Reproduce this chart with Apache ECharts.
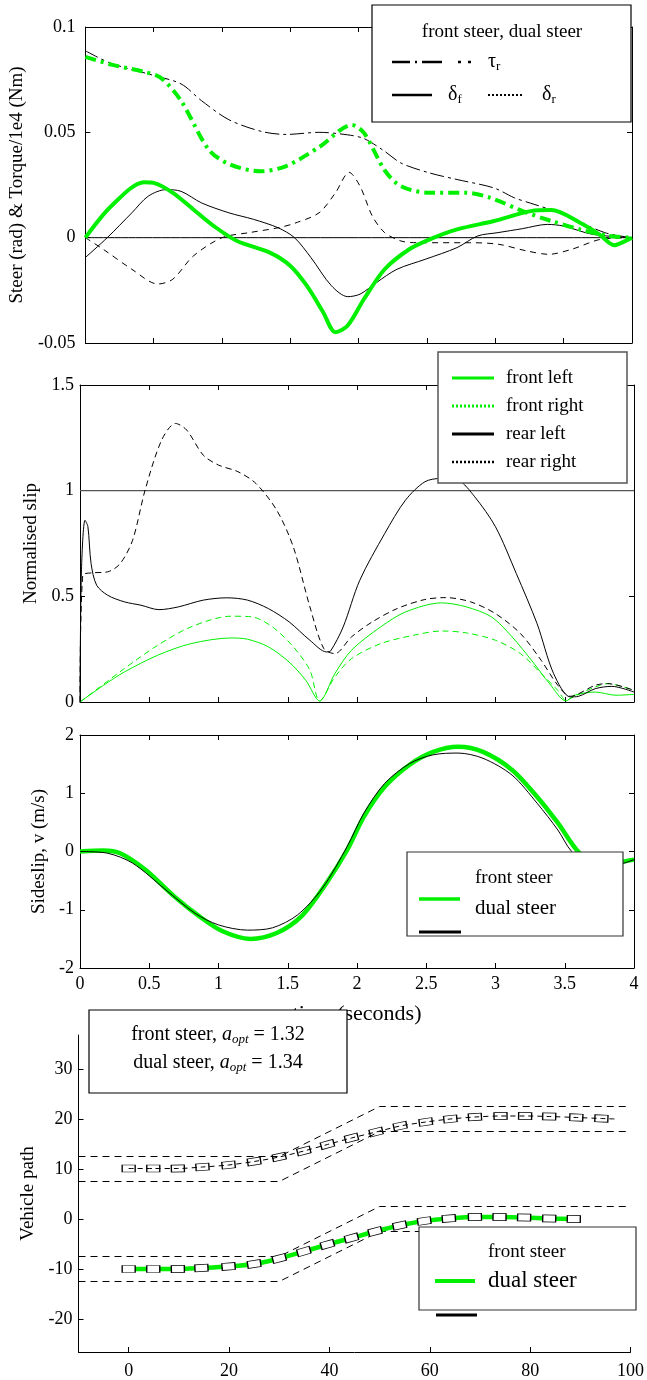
<!DOCTYPE html>
<html><head><meta charset="utf-8">
<script src="https://cdn.jsdelivr.net/npm/echarts@6/dist/echarts.min.js"></script>
<style>html,body{margin:0;padding:0;background:#fff}#c{width:647px;height:1380px}</style>
</head><body><div id="c"></div>
<script>
// ---------- Panel 1: steer & torque ----------
const frontTauT = [0,0.2,0.43,0.55,0.7,0.9,1.05,1.28,1.47,1.71,1.95,2.04,2.19,2.31,2.52,2.78,2.96,3.2,3.41,3.62,3.83,4];
const frontTauV = [0.0858,0.082,0.0787,0.076,0.065,0.042,0.035,0.0315,0.034,0.043,0.0535,0.0496,0.032,0.0244,0.0213,0.0213,0.019,0.0126,0.0079,0.0039,0.0008,0];
const dualTauT = [0,0.19,0.5,0.7,0.85,1.05,1.29,1.47,1.71,1.92,2.04,2.19,2.31,2.52,2.72,2.99,3.14,3.29,3.47,3.8,4];
const dualTauV = [0.0887,0.0827,0.077,0.073,0.065,0.056,0.0504,0.049,0.050,0.0488,0.047,0.041,0.0354,0.0307,0.0276,0.0236,0.0189,0.0157,0.0118,0.0024,0];
const frontDfT = [0,0.19,0.43,0.5,0.64,0.79,0.94,1.11,1.35,1.5,1.62,1.74,1.83,1.92,2.04,2.19,2.37,2.52,2.72,2.99,3.26,3.41,3.62,3.76,3.87,3.95,4];
const frontDfV = [0,0.015,0.0263,0.026,0.0213,0.0134,0.0055,-0.0016,-0.0071,-0.0134,-0.0228,-0.0354,-0.0449,-0.0417,-0.029,-0.015,-0.0055,-0.0008,0.0039,0.0079,0.0126,0.0131,0.0071,0.0016,-0.0036,-0.0016,0];
const dualDfT = [0,0.16,0.34,0.46,0.59,0.7,0.85,1.05,1.23,1.41,1.53,1.65,1.8,1.92,2.01,2.13,2.28,2.49,2.72,2.87,3.02,3.2,3.38,3.5,3.71,4];
const dualDfV = [-0.0094,0,0.0118,0.0197,0.0228,0.022,0.0165,0.0118,0.0087,0.0047,0,-0.0094,-0.0228,-0.028,-0.0268,-0.0213,-0.015,-0.0102,-0.0047,0.0008,0.0024,0.0043,0.0063,0.0055,0.0016,0];
const dualDrT = [0,0.13,0.34,0.53,0.64,0.79,1.0,1.2,1.41,1.53,1.71,1.83,1.93,2.01,2.1,2.19,2.31,2.43,2.81,3.02,3.23,3.39,3.56,3.77,4];
const dualDrV = [0,-0.0055,-0.015,-0.022,-0.0197,-0.0087,0,0.0024,0.0047,0.0068,0.0118,0.0213,0.031,0.0244,0.0102,0.0024,-0.0016,-0.0024,-0.0024,-0.0031,-0.0063,-0.0079,-0.0055,-0.0008,0];
const p1RefT = [0,4], p1RefV = [0,0];

// ---------- Panel 2: normalised slip ----------
const rearLeftT = [0,0.01,0.036,0.057,0.08,0.12,0.2,0.32,0.44,0.57,0.71,0.89,1.06,1.21,1.36,1.51,1.66,1.78,1.81,1.9,2.02,2.2,2.35,2.49,2.61,2.73,2.85,3.0,3.15,3.3,3.42,3.54,3.6,3.72,3.84,4];
const rearLeftV = [0,0.61,0.86,0.83,0.655,0.553,0.505,0.474,0.458,0.437,0.45,0.482,0.493,0.482,0.442,0.379,0.292,0.237,0.242,0.355,0.576,0.797,0.955,1.042,1.058,1.05,0.971,0.829,0.608,0.371,0.134,0.024,0.027,0.063,0.074,0.047];
const rearRightT = [0,0.02,0.086,0.2,0.29,0.38,0.47,0.59,0.69,0.77,0.89,1.0,1.14,1.27,1.42,1.54,1.66,1.76,1.84,1.96,2.11,2.29,2.49,2.64,2.82,3.0,3.18,3.33,3.45,3.54,3.72,3.81,4];
const rearRightV = [0,0.6,0.611,0.616,0.655,0.766,1.003,1.24,1.318,1.287,1.168,1.121,1.09,1.034,0.908,0.734,0.45,0.253,0.229,0.308,0.379,0.442,0.485,0.494,0.474,0.418,0.324,0.197,0.079,0.027,0.079,0.087,0.055];
const frontLeftT = [0,0.17,0.32,0.56,0.8,1.09,1.21,1.36,1.51,1.63,1.73,1.84,1.96,2.17,2.35,2.61,2.79,2.97,3.12,3.27,3.39,3.51,3.57,3.72,3.87,4];
const frontLeftV = [0,0.079,0.142,0.221,0.276,0.303,0.297,0.261,0.189,0.103,0.005,0.134,0.245,0.355,0.426,0.469,0.45,0.403,0.308,0.189,0.087,0.005,0.032,0.047,0.032,0.036];
const frontRightT = [0,0.32,0.56,0.8,1.09,1.24,1.39,1.54,1.66,1.73,1.84,1.96,2.17,2.41,2.61,2.79,3.0,3.18,3.33,3.45,3.51,3.57,3.72,3.81,4];
const frontRightV = [0,0.158,0.268,0.355,0.406,0.403,0.355,0.261,0.15,0.005,0.118,0.205,0.276,0.316,0.336,0.327,0.292,0.229,0.134,0.055,0.008,0.027,0.071,0.087,0.055];
const p2RefT = [0,4], p2RefV = [1,1];

// ---------- Panel 3: sideslip ----------
const frontSideT = [0,0.17,0.29,0.47,0.68,0.86,1.03,1.23,1.42,1.6,1.78,1.93,2.05,2.2,2.38,2.55,2.73,2.91,3.12,3.3,3.45,3.6,3.75,3.93,4];
const frontSideV = [0,0.017,-0.03,-0.31,-0.77,-1.11,-1.37,-1.5,-1.4,-1.11,-0.54,0.03,0.6,1.11,1.49,1.71,1.8,1.71,1.4,0.94,0.49,-0.01,-0.26,-0.17,-0.14];
const dualSideT = [0,0.2,0.38,0.62,0.83,1.0,1.21,1.39,1.57,1.75,1.93,2.05,2.2,2.38,2.55,2.73,2.91,3.12,3.3,3.45,3.55,3.72,3.9,4];
const dualSideV = [0,-0.03,-0.2,-0.66,-1.06,-1.26,-1.35,-1.31,-1.09,-0.63,0.09,0.66,1.17,1.51,1.66,1.69,1.6,1.31,0.83,0.37,0,-0.31,-0.22,-0.14];

// ---------- Panel 4: vehicle path ----------
const laneX = [-10,30,50,100];
const laneA = [12.5,12.5,22.5,22.5];
const laneB = [7.5,7.5,17.5,17.5];
const laneC = [-7.5,-7.5,2.5,2.5];
const laneD = [-12.5,-12.5,-2.5,-2.5];
const topPathX = [0,4.9,9.8,14.7,19.9,25,30,34.9,39.6,44.4,49.3,54.1,59.2,64.1,69,74.1,79,83.8,89.2,94.2];
const topPathY = [10.1,10.1,10.1,10.4,10.8,11.5,12.4,13.6,14.9,16.2,17.4,18.6,19.4,20.0,20.4,20.6,20.6,20.5,20.3,20.1];
const topLineX = [0,4.9,9.8,14.7,19.9,25,30,34.9,39.6,44.4,49.3,54.1,59.2,64.1,69,74.1,79,83.8,89.2,94.2,97];
const topLineY = [10.1,10.1,10.1,10.4,10.8,11.5,12.4,13.6,14.9,16.2,17.4,18.6,19.4,20.0,20.4,20.6,20.6,20.5,20.3,20.1,20.0];
const botPathX = [0,4.9,9.8,14.5,19.9,25,30,34.9,39.6,44.4,49.1,54,58.9,63.8,69,73.9,78.8,83.8,88.7];
const botPathY = [-10,-10,-10,-9.8,-9.5,-9.0,-7.9,-6.5,-5.1,-3.8,-2.5,-1.3,-0.4,0.1,0.4,0.4,0.3,0.1,0];
const p4XTicks = [0,20,40,60,80,100];
const p4YTicks = [-20,-10,0,10,20,30];

const FONT = 'Liberation Serif';
const GREEN = '#00f000';
const zip = (a,b) => a.map((v,i)=>[v,b[i]]);

const grids = [
  {left:78, right:15, top:27, height:316},
  {left:80, right:13, top:385, height:317},
  {left:80, right:13, top:735, height:233},
  {left:78.5, right:15, top:1035, height:318}
];

const xAxes = [], yAxes = [];
const lblStyle = {color:'#000', fontFamily:FONT, fontSize:18};
const nameStyle = {color:'#000', fontFamily:FONT, fontSize:19};
function axisBase(g, pos){
  return {gridIndex:g, type:'value', position:pos,
    axisLine:{show:true, onZero:false, lineStyle:{color:'#000', width:1}},
    axisTick:{show:true, inside:true, length:5, lineStyle:{color:'#000'}},
    splitLine:{show:false}};
}
function boxAxes(g, xr, yr, showX, yMargin, yName, yGap, xName){
  const xb = Object.assign(axisBase(g,'bottom'), {min:xr[0], max:xr[1], interval:xr[2],
    axisLabel:Object.assign({show:showX, margin:7}, lblStyle)});
  if (xName) Object.assign(xb, {name:xName, nameLocation:'middle', nameGap:35,
    nameTextStyle:{color:'#000', fontFamily:FONT, fontSize:22}});
  xAxes.push(xb);
  xAxes.push(Object.assign(axisBase(g,'top'), {min:xr[0], max:xr[1], interval:xr[2], axisLabel:{show:false}}));
  yAxes.push(Object.assign(axisBase(g,'left'), {min:yr[0], max:yr[1], interval:yr[2],
    axisLabel:Object.assign({margin:yMargin}, lblStyle),
    name:yName, nameLocation:'middle', nameGap:yGap, nameRotate:90, nameTextStyle:nameStyle}));
  yAxes.push(Object.assign(axisBase(g,'right'), {min:yr[0], max:yr[1], interval:yr[2], axisLabel:{show:false}}));
}
boxAxes(0, [0,4,0.5], [-0.05,0.1,0.05], false, 10, 'Steer (rad) & Torque/1e4 (Nm)', 50);
boxAxes(1, [0,4,0.5], [0,1.5,0.5], false, 6, 'Normalised slip', 34);
boxAxes(2, [0,4,0.5], [-2,2,1], true, 6, 'Sideslip, v (m/s)', 26, 'time (seconds)');
// panel 4 (x index 6, y index 6)
xAxes.push(Object.assign(axisBase(3,'bottom'), {min:-10, max:100,
  axisTick:{show:true, inside:true, length:5, lineStyle:{color:'#000'}, customValues:p4XTicks},
  axisLabel:Object.assign({margin:10, customValues:p4XTicks}, lblStyle)}));
yAxes.push(Object.assign(axisBase(3,'left'), {min:-26.6, max:36.8,
  axisTick:{show:true, inside:true, length:5, lineStyle:{color:'#000'}, customValues:p4YTicks},
  axisLabel:Object.assign({margin:6, customValues:p4YTicks}, lblStyle),
  name:'Vehicle path', nameLocation:'middle', nameGap:35, nameRotate:90, nameTextStyle:nameStyle}));

function line(ax, data, color, width, type, z){
  return {type:'line', xAxisIndex:ax, yAxisIndex:ax, data, showSymbol:false, symbol:'none',
    smooth:0.3, lineStyle:{color, width, type:type||'solid', cap:'butt'}, z:z||2, silent:true, animation:false};
}
function boxRot(xs, ys){
  return function(val, p){
    const i = p.dataIndex, n = xs.length;
    const a = Math.max(0,i-1), b = Math.min(n-1,i+1);
    return Math.atan2(ys[b]-ys[a], xs[b]-xs[a]) * 180/Math.PI;
  };
}
function boxes(ax, xs, ys, fill){
  return {type:'scatter', xAxisIndex:ax, yAxisIndex:ax, data:zip(xs,ys), symbol:'rect',
    symbolSize:[13,7], symbolRotate:boxRot(xs,ys),
    itemStyle:{color:fill, borderColor:'#000', borderWidth:1, opacity:1}, z:5, silent:true, animation:false};
}

const series = [
  // panel 1 (axis index 0)
  line(0, zip(p1RefT,p1RefV), '#000', 1),
  line(0, zip(dualTauT,dualTauV), '#000', 1, [14,4,3,4]),
  line(0, zip(dualDrT,dualDrV), '#000', 1, [6,5]),
  line(0, zip(dualDfT,dualDfV), '#000', 1),
  line(0, zip(frontTauT,frontTauV), GREEN, 4, [11,5,3,5], 3),
  line(0, zip(frontDfT,frontDfV), GREEN, 4, 'solid', 3),
  // panel 2 (axis index 2)
  line(2, zip(p2RefT,p2RefV), '#555', 1.2),
  line(2, zip(frontRightT,frontRightV), GREEN, 1, [6,4]),
  line(2, zip(frontLeftT,frontLeftV), GREEN, 1),
  line(2, zip(rearRightT,rearRightV), '#000', 1, [6,4]),
  line(2, zip(rearLeftT,rearLeftV), '#000', 1),
  // panel 3 (axis index 4)
  line(4, zip(frontSideT,frontSideV), GREEN, 4.5),
  line(4, zip(dualSideT,dualSideV), '#000', 1, 'solid', 3),
  // panel 4 (axis index 6)
  Object.assign(line(6, zip(laneX,laneA), '#000', 1, [7,5]), {smooth:false}),
  Object.assign(line(6, zip(laneX,laneB), '#000', 1, [7,5]), {smooth:false}),
  Object.assign(line(6, zip(laneX,laneC), '#000', 1, [7,5]), {smooth:false}),
  Object.assign(line(6, zip(laneX,laneD), '#000', 1, [7,5]), {smooth:false}),
  line(6, zip(topLineX,topLineY), '#000', 1, [5,4]),
  boxes(6, topPathX, topPathY, 'rgba(0,0,0,0)'),
  line(6, zip(botPathX,botPathY), GREEN, 4.5, 'solid', 3),
  boxes(6, botPathX, botPathY, '#fff')
];

const Z = 100;
function rect(x,y,w,h,stroke,lw){ return {type:'rect', z:Z, shape:{x,y,width:w,height:h}, style:{fill:'#fff', stroke:stroke||'#000', lineWidth:lw||1}}; }
function seg(x1,x2,y,color,w,dash){ return {type:'line', z:Z+1, shape:{x1,y1:y,x2,y2:y}, style:{stroke:color, lineWidth:w, lineDash:dash||null}}; }
function txt(text,x,y,size,opts){
  return {type:'text', z:Z+1, style:Object.assign({text, x, y, fill:'#000', fontFamily:FONT, fontSize:size,
    textAlign:'left', textVerticalAlign:'middle'}, opts||{})};
}
const subRich = (size) => ({
  a:{fontFamily:FONT, fontSize:size, color:'#000'},
  s:{fontFamily:FONT, fontSize:Math.round(size*0.65), color:'#000', padding:[Math.round(size*0.45),0,0,0]},
  n:{fontFamily:FONT, fontSize:size, color:'#000'},
  i:{fontFamily:FONT, fontSize:size, color:'#000', fontStyle:'italic'},
  si:{fontFamily:FONT, fontSize:Math.round(size*0.65), color:'#000', fontStyle:'italic', padding:[Math.round(size*0.45),0,0,0]},
  g:{fontFamily:FONT, fontSize:size, color:GREEN}
});

const graphic = [
  // panel 1 legend
  rect(372,5,259,117,'#000',1.2),
  txt('{g|front steer}{n|, dual steer}', 502, 32, 19, {textAlign:'center', rich:subRich(19)}),
  seg(392,410,62,'#000',2.5), seg(415,417,62,'#000',2.5), seg(422,442,62,'#000',2.5),
  seg(458,461,62,'#000',2.5), seg(468,471,62,'#000',2.5),
  txt('{a|τ}{s|r}', 488, 62, 20, {rich:subRich(20)}),
  seg(392,432,95,'#000',2.5),
  txt('{a|δ}{s|f}', 448, 95, 20, {rich:subRich(20)}),
  seg(488,522,95,'#000',2,[2,2]),
  txt('{a|δ}{s|r}', 542, 95, 20, {rich:subRich(20)}),
  // panel 2 legend
  rect(438,352,189,131,'#555',1.5),
  seg(452,494,378,GREEN,3), seg(452,494,406,GREEN,3,[2,2]),
  seg(452,494,434,'#000',3), seg(452,494,462,'#000',2.5,[2,2]),
  txt('front left',506,378,19), txt('front right',506,406,19),
  txt('rear left',506,434,19), txt('rear right',506,462,19),
  // panel 3 legend
  rect(407,852,216,84,'#333',1.2),
  txt('front steer',475,878,19), txt('dual steer',475,908,21),
  seg(419,460,899,GREEN,3.5), seg(419,461,932,'#000',3),
  // panel 4 text box
  rect(89,1010,258,83,'#000',1.2),
  txt('{n|front steer, }{i|a}{si|opt}{n| = 1.32}', 218, 1035, 20, {textAlign:'center', rich:subRich(20)}),
  txt('{n|dual steer, }{i|a}{si|opt}{n| = 1.34}', 218, 1063, 20, {textAlign:'center', rich:subRich(20)}),
  // panel 4 legend
  rect(419,1227,217,83,'#333',1.2),
  txt('front steer',488,1252,19), txt('dual steer',488,1281,23),
  seg(435,475,1281,GREEN,4), seg(436,477,1315,'#000',3)
];

const chart = echarts.init(document.getElementById('c'), null, {renderer:'canvas'});
chart.setOption({
  backgroundColor:'#fff', animation:false,
  grid:grids, xAxis:xAxes, yAxis:yAxes, series, graphic
});
</script></body></html>
